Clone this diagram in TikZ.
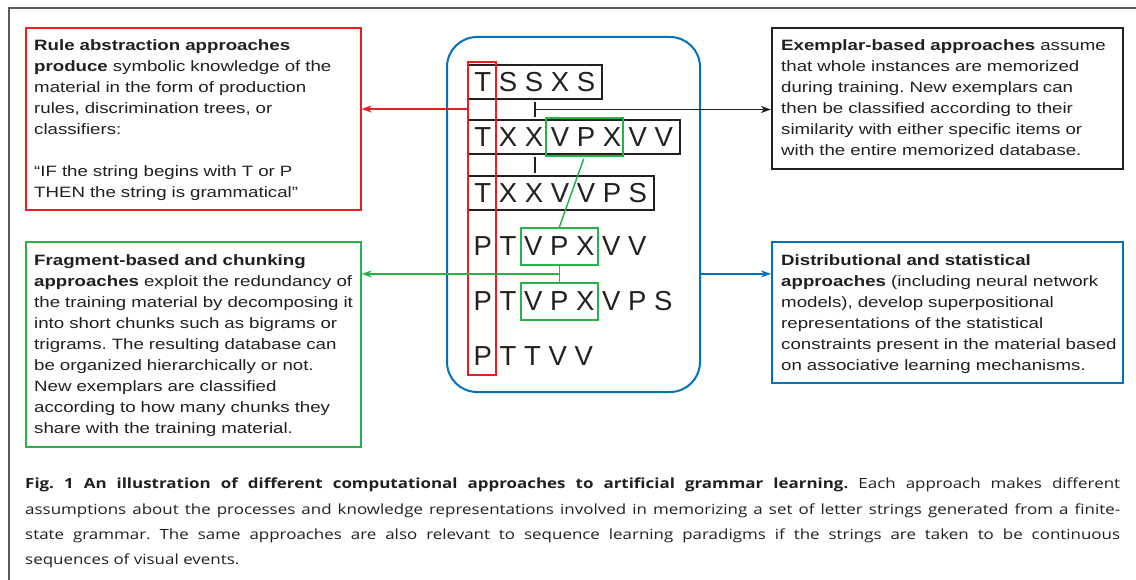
\documentclass[tikz,border=0pt]{standalone}
\usepackage{fontspec}
\setmainfont{Liberation Sans}
\newfontfamily\boxfont{Liberation Sans}[FakeStretch=1.245]
\newfontfamily\capfont{Open Sans}[FakeStretch=1.21]
\usetikzlibrary{arrows.meta,calc}
\frenchspacing
\definecolor{myred}{RGB}{237,28,36}
\definecolor{mygreen}{RGB}{40,178,74}
\definecolor{myblue}{RGB}{0,114,188}
\definecolor{framegray}{RGB}{90,90,90}
\definecolor{ink}{RGB}{35,31,32}
\tikzset{
  descbox/.style={draw, line width=1.6pt, anchor=north west, inner sep=0pt},
  desc/.style={anchor=north west, inner sep=0pt, align=left, text width=420pt, text=ink,
    font=\boxfont\fontsize{15}{21}\selectfont\frenchspacing},
  letters/.style={anchor=base west, inner xsep=7pt, inner ysep=7pt, text height=20pt,
    text depth=0pt, text=ink, font=\fontsize{27.5}{30}\selectfont},
  strbox/.style={letters, draw=ink, line width=1.8pt},
  gbox/.style={draw=mygreen, line width=1.8pt, anchor=north west, inner sep=0pt},
  arr/.style={line width=1.5pt, -{Stealth[length=10pt,width=7pt,inset=3pt]}},
  tick/.style={draw=ink, line width=1.5pt}
}
\begin{document}
\begin{tikzpicture}[x=1pt,y=-1pt]
\useasboundingbox (0,0) rectangle (1136,580);
\fill[white] (0,0) rectangle (1136,580);
\draw[framegray, line width=1.5pt] (9,580) -- (9,8) -- (1136,8);

% description boxes
\node[descbox, draw=myred, minimum width=335pt, minimum height=182pt] (rule) at (25,27) {};
\node[desc] (ruletxt) at (34,39.5) {\textbf{Rule abstraction approaches}\\
\textbf{produce} symbolic knowledge of the\\
material in the form of production\\
rules, discrimination trees, or\\
classifiers:\\[21pt]
“IF the string begins with T or P\\
THEN the string is grammatical”};

\node[descbox, draw=ink, minimum width=351pt, minimum height=141pt] (exem) at (771,27) {};
\node[desc] (exemtxt) at (781,39.5) {\textbf{Exemplar-based approaches} assume\\
that whole instances are memorized\\
during training. New exemplars can\\
then be classified according to their\\
similarity with either specific items or\\
with the entire memorized database.};

\node[descbox, draw=mygreen, minimum width=335pt, minimum height=205pt] (frag) at (25,241) {};
\node[desc] (fragtxt) at (34,254.5) {\textbf{Fragment-based and chunking}\\
\textbf{approaches} exploit the redundancy of\\
the training material by decomposing it\\
into short chunks such as bigrams or\\
trigrams. The resulting database can\\
be organized hierarchically or not.\\
New exemplars are classified\\
according to how many chunks they\\
share with the training material.};

\node[descbox, draw=myblue, minimum width=351pt, minimum height=141pt] (dist) at (771,241) {};
\node[desc] (disttxt) at (781,254.5) {\textbf{Distributional and statistical}\\
\textbf{approaches} (including neural network\\
models), develop superpositional\\
representations of the statistical\\
constraints present in the material based\\
on associative learning mechanisms.};

% central pool
\node[draw=myblue, line width=2pt, rounded corners=30pt, minimum width=253pt,
  minimum height=355pt, anchor=north west, inner sep=0pt] (pool) at (446,36) {};

% strings
\node[strbox] (r1) at (466.5,92) {T S S X S};
\node[strbox] (r2) at (466.5,147) {T X X V P X V V};
\node[strbox] (r3) at (466.5,203) {T X X V V P S};
\node[letters] (r4) at (466.5,255.7) {P T V P X V V};
\node[letters] (r5) at (466.5,310.7) {P T V P X V P S};
\node[letters] (r6) at (466.5,365.7) {P T T V V};

% chunks
\node[gbox, minimum width=77pt, minimum height=38pt] (g2) at (545,117) {};
\node[gbox, minimum width=77pt, minimum height=37pt] (g4) at (520,227) {};
\node[gbox, minimum width=77pt, minimum height=37pt] (g5) at (520,282) {};

% first-letter column
\node[draw=myred, line width=2pt, minimum width=28pt, minimum height=313pt,
  anchor=north west, inner sep=0pt] (col) at (467,61) {};

% connectors
\coordinate (redy) at (0,109);
\draw[myred, arr] (col.west |- redy) -- (rule.east |- redy);

\draw[tick, shorten <=2pt, shorten >=2pt] (r1.south) -- (r1.south |- r2.north);
\draw[tick, shorten <=2pt, shorten >=2pt] (r1.south |- r2.south) -- (r1.south |- r3.north);
\coordinate (tj) at ($(r1.south)!0.5!(r1.south |- r2.north)$);
\draw[ink, arr] (tj) -- (tj -| exem.west);

\draw[mygreen, line width=1.5pt, shorten <=2pt] (g2.south) -- (g4.north);
\draw[mygreen, line width=1.5pt] (g4.south) -- (g5.north);
\coordinate (gj) at ($(g4.south)!0.5!(g5.north)$);
\draw[mygreen, arr] (gj) -- (gj -| frag.east);

\draw[myblue, arr] (pool.east |- gj) -- (dist.west |- gj);

% caption
\node[anchor=north west, inner sep=0pt, text width=1095pt, align=justify, text=ink,
  font=\capfont\fontsize{14}{25.3}\selectfont\frenchspacing] (cap) at (25,477.8)
{\hyphenpenalty=10000 \textbf{Fig. 1 An illustration of different computational approaches to artificial grammar learning.} Each approach makes different\linebreak
assumptions about the processes and knowledge representations involved in memorizing a set of letter strings generated from a finite-\linebreak
state grammar. The same approaches are also relevant to sequence learning paradigms if the strings are taken to be continuous\linebreak
sequences of visual events.};
\end{tikzpicture}
\end{document}
